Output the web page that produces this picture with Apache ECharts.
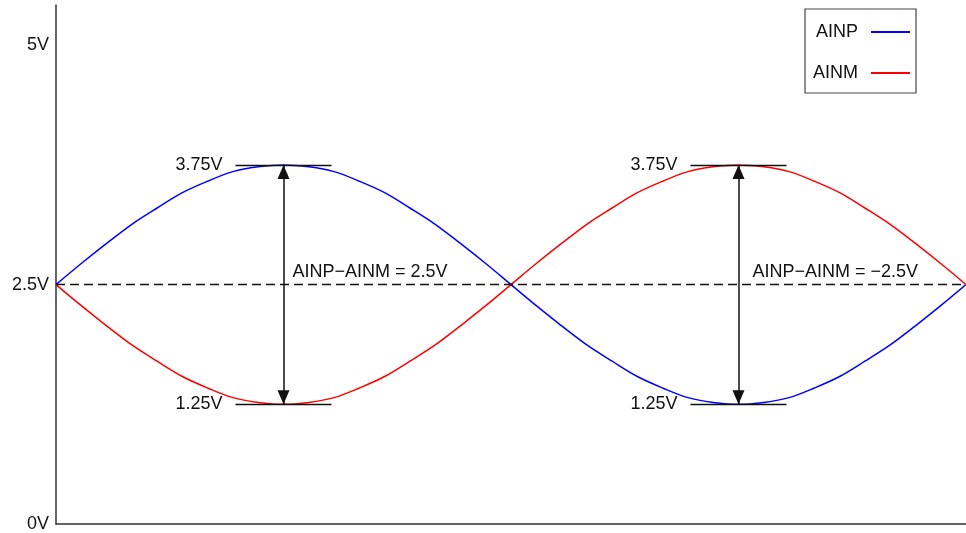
<!DOCTYPE html>
<html>
<head>
<meta charset="utf-8">
<script src="https://cdn.jsdelivr.net/npm/echarts@6/dist/echarts.min.js"></script>
<style>
  html, body { margin: 0; padding: 0; background: #fff; }
  #chart { width: 966px; height: 533px; }
</style>
</head>
<body>
<div id="chart"></div>
<script>
// Phase angle (degrees) over one full period
const phase = [0, 10, 20, 30, 40, 50, 60, 70, 80, 90, 100, 110, 120, 130, 140, 150, 160, 170, 180,
               190, 200, 210, 220, 230, 240, 250, 260, 270, 280, 290, 300, 310, 320, 330, 340, 350, 360];
// Positive input voltage (V)
const ainp = [2.5, 2.72, 2.93, 3.13, 3.30, 3.46, 3.58, 3.68, 3.73, 3.75, 3.73, 3.68, 3.58, 3.46, 3.30, 3.13, 2.93, 2.72, 2.5,
              2.28, 2.07, 1.87, 1.70, 1.54, 1.42, 1.32, 1.27, 1.25, 1.27, 1.32, 1.42, 1.54, 1.70, 1.87, 2.07, 2.28, 2.5];
// Negative input voltage (V)
const ainm = [2.5, 2.28, 2.07, 1.87, 1.70, 1.54, 1.42, 1.32, 1.27, 1.25, 1.27, 1.32, 1.42, 1.54, 1.70, 1.87, 2.07, 2.28, 2.5,
              2.72, 2.93, 3.13, 3.30, 3.46, 3.58, 3.68, 3.73, 3.75, 3.73, 3.68, 3.58, 3.46, 3.30, 3.13, 2.93, 2.72, 2.5];
// Y-axis tick labels
const yTicks = { 0: '0V', 2.5: '2.5V', 5: '5V' };
// Common-mode level and the peak levels
const midLevel = 2.5;
const highLevel = 3.75;
const lowLevel = 1.25;
// Phases of the two differential extremes and the half-width of the level markers
const peakPhases = [90, 270];
const levelHalfWidth = 19;
const diffLabels = ['AINP\u2212AINM = 2.5V', 'AINP\u2212AINM = \u22122.5V'];

const FONT = 'Liberation Sans, Arial, sans-serif';
const black = '#111';

const chart = echarts.init(document.getElementById('chart'), null, { renderer: 'canvas' });

const levelLines = [];
const arrowShafts = [];
const arrowHeads = [];
peakPhases.forEach(p => {
  levelLines.push([{ coord: [p - levelHalfWidth, highLevel], label: { formatter: highLevel + 'V' } },
                   { coord: [p + levelHalfWidth, highLevel] }]);
  levelLines.push([{ coord: [p - levelHalfWidth, lowLevel], label: { formatter: lowLevel + 'V' } },
                   { coord: [p + levelHalfWidth, lowLevel] }]);
  arrowShafts.push([{ coord: [p, highLevel] }, { coord: [p, lowLevel] }]);
  // heads sit with their tips on the level lines
  arrowHeads.push({ coord: [p, highLevel], symbolRotate: 0, symbolOffset: [0, 7] });
  arrowHeads.push({ coord: [p, lowLevel], symbolRotate: 180, symbolOffset: [0, -7] });
});

const option = {
  animation: false,
  backgroundColor: '#fff',
  grid: { left: 56, right: 0, top: 5, bottom: 9 },
  legend: {
    orient: 'vertical',
    left: 805,
    top: 9,
    align: 'right',
    icon: 'rect',
    padding: [14, 6, 11, 8],
    itemGap: 23,
    itemWidth: 39,
    itemHeight: 2,
    borderColor: '#444',
    borderWidth: 1.2,
    textStyle: { fontSize: 18, fontFamily: FONT, color: black, width: 50, padding: [0, 8, 0, 0] },
    data: ['AINP', 'AINM']
  },
  xAxis: {
    type: 'value',
    min: 0,
    max: 360,
    axisLine: { show: true, lineStyle: { color: '#333', width: 1.5 } },
    axisTick: { show: false },
    axisLabel: { show: false },
    splitLine: { show: false }
  },
  yAxis: {
    type: 'value',
    min: 0,
    max: 5.42,
    interval: 2.5,
    axisLine: { show: true, lineStyle: { color: '#333', width: 1.5 } },
    axisTick: { show: false },
    splitLine: { show: false },
    axisLabel: {
      margin: 7,
      fontSize: 18,
      fontFamily: FONT,
      color: black,
      formatter: v => (yTicks[v] !== undefined ? yTicks[v] : '')
    }
  },
  series: [
    {
      name: 'AINP',
      type: 'line',
      data: phase.map((x, i) => [x, ainp[i]]),
      smooth: 0.35,
      symbol: 'none',
      lineStyle: { color: '#0000ff', width: 1.5 },
      itemStyle: { color: '#0000ff' },
      z: 3,
      markLine: {
        silent: true,
        symbol: 'none',
        lineStyle: { color: black, type: [9, 5], width: 1.3 },
        label: { show: false },
        data: [{ yAxis: midLevel }]
      }
    },
    {
      name: 'AINM',
      type: 'line',
      data: phase.map((x, i) => [x, ainm[i]]),
      smooth: 0.35,
      symbol: 'none',
      lineStyle: { color: '#ff0000', width: 1.5 },
      itemStyle: { color: '#ff0000' },
      z: 3,
      markPoint: {
        silent: true,
        symbol: 'circle',
        symbolSize: 0,
        data: peakPhases.map((p, i) => ({
          coord: [p, midLevel],
          label: {
            show: true,
            position: 'right',
            distance: i === 0 ? 9 : 14,
            offset: [0, -13],
            formatter: diffLabels[i],
            fontSize: 18,
            fontFamily: FONT,
            color: black
          }
        }))
      }
    },
    {
      name: 'levels',
      type: 'line',
      data: [],
      z: 4,
      markLine: {
        silent: true,
        symbol: 'none',
        lineStyle: { color: black, type: 'solid', width: 1.3 },
        label: {
          show: true,
          position: 'start',
          distance: 13,
          fontSize: 18,
          fontFamily: FONT,
          color: black
        },
        data: levelLines
      }
    },
    {
      name: 'arrows',
      type: 'line',
      data: [],
      z: 5,
      markLine: {
        silent: true,
        symbol: 'none',
        lineStyle: { color: black, type: 'solid', width: 1.5 },
        label: { show: false },
        data: arrowShafts
      },
      markPoint: {
        silent: true,
        symbol: 'triangle',
        symbolSize: [12, 14],
        itemStyle: { color: black },
        label: { show: false },
        data: arrowHeads
      }
    }
  ]
};

chart.setOption(option);
</script>
</body>
</html>
